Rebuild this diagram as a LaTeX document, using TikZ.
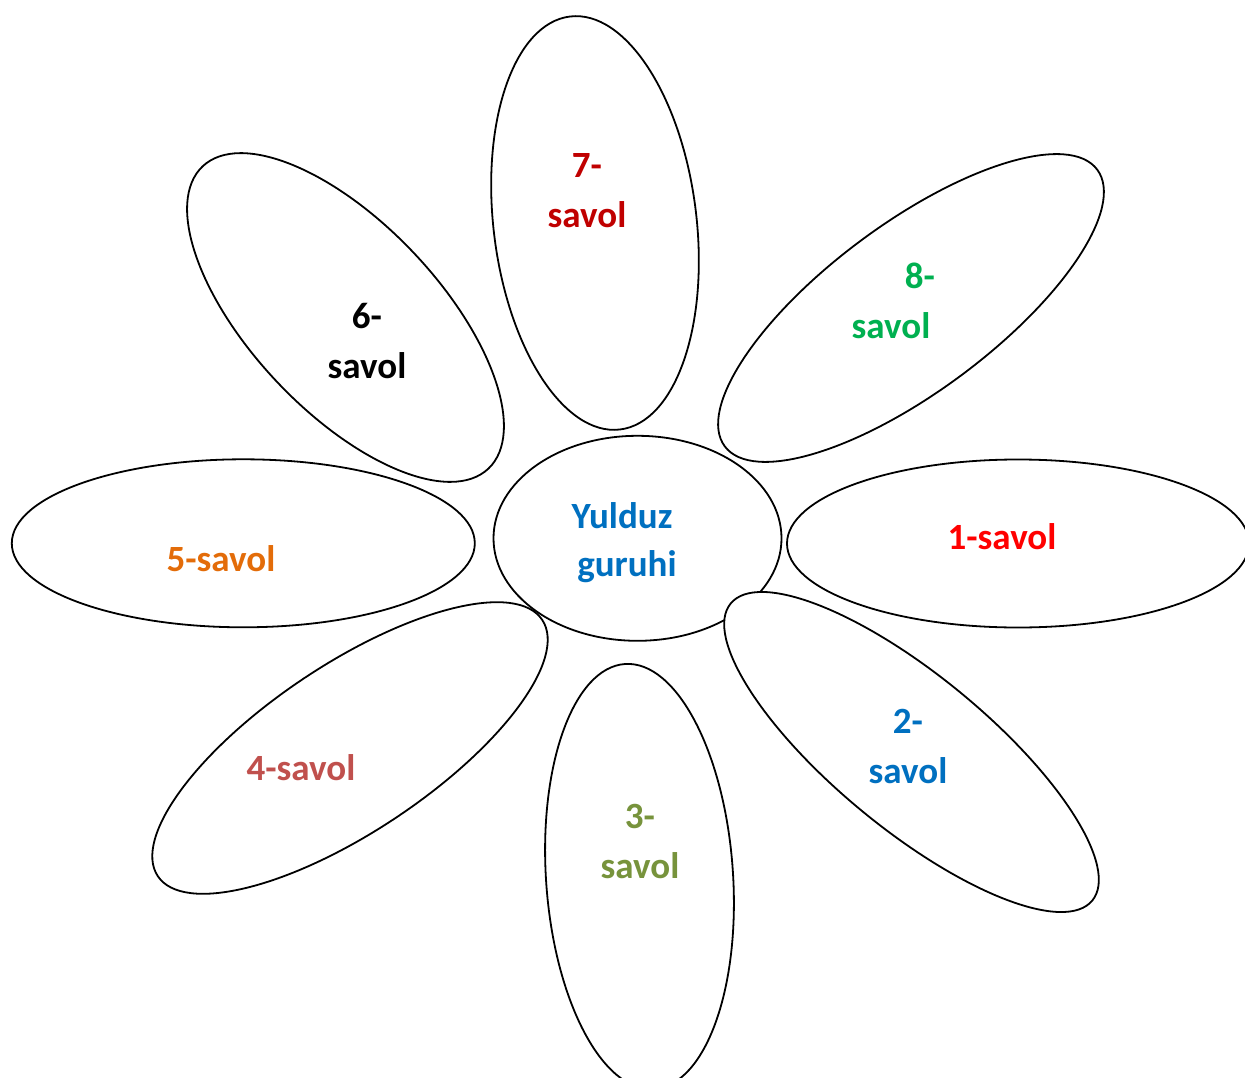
\documentclass[tikz,border=0pt]{standalone}
\usepackage{fontspec}
\setmainfont{Carlito}
\usetikzlibrary{shapes.geometric}
\definecolor{cone}{HTML}{FF0000}
\definecolor{ctwo}{HTML}{0070C0}
\definecolor{cthree}{HTML}{77933C}
\definecolor{cfour}{HTML}{C0504D}
\definecolor{cfive}{HTML}{E36C09}
\definecolor{csix}{HTML}{000000}
\definecolor{cseven}{HTML}{C00000}
\definecolor{ceight}{HTML}{00B050}
\definecolor{ccenter}{HTML}{0070C0}
\begin{document}
\begin{tikzpicture}[x=1pt,y=-1pt,
  petal/.style={draw=black, line width=1.8pt, ellipse, inner sep=0pt, outer sep=0pt},
  lbl/.style={font=\fontsize{37}{50}\selectfont\bfseries, align=center, anchor=base, inner sep=0pt, outer sep=0pt}]
\useasboundingbox (0,0) rectangle (1245,1078);
\clip (0,0) rectangle (1245,1078);
% petals
\node[petal, minimum width=462pt, minimum height=168pt] (p1) at (1018,543.5) {};
\node[petal, minimum width=187pt, minimum height=426pt, rotate=3.9] (p3) at (639.5,876.5) {};
\node[petal, minimum width=462pt, minimum height=167pt, rotate=33.7] (p4) at (350,748) {};
\node[petal, minimum width=463pt, minimum height=168pt] (p5) at (243.3,543.3) {};
\node[petal, minimum width=416pt, minimum height=188pt, rotate=-46.6] (p6) at (345.5,317.5) {};
\node[petal, minimum width=203pt, minimum height=416pt, rotate=6.9] (p7) at (595,223) {};
\node[petal, minimum width=464pt, minimum height=168pt, rotate=36.6] (p8) at (911,308) {};
\node[petal, minimum width=288pt, minimum height=205pt] (c) at (637.5,538.3) {};
\node[petal, fill=white, minimum width=468pt, minimum height=154pt, rotate=-39.4] (p2) at (911.5,752) {};
% labels (anchor=base is the baseline of the last line)
\node[lbl, text=cone] (t1) at (1002,549) {1-savol};
\node[lbl, text=ctwo] (t2) at (908,783) {2-\\savol};
\node[lbl, text=cthree] (t3) at (640,878.3) {3-\\savol};
\node[lbl, text=cfour] (t4) at (301,780) {4-savol};
\node[lbl, text=cfive] (t5) at (221,571) {5-savol};
\node[lbl, text=csix] (t6) at (367,378) {6-\\savol};
\node[lbl, text=cseven] (t7) at (587,228) {7-\\savol};
\node[lbl, text=ceight] (t8) at (891,338) {\hspace*{58pt}8-\\savol};
\node[lbl, text=ccenter, font=\fontsize{37}{48}\selectfont\bfseries] (tc) at (622,576) {Yulduz\\\hspace*{10pt}guruhi};
\end{tikzpicture}
\end{document}
